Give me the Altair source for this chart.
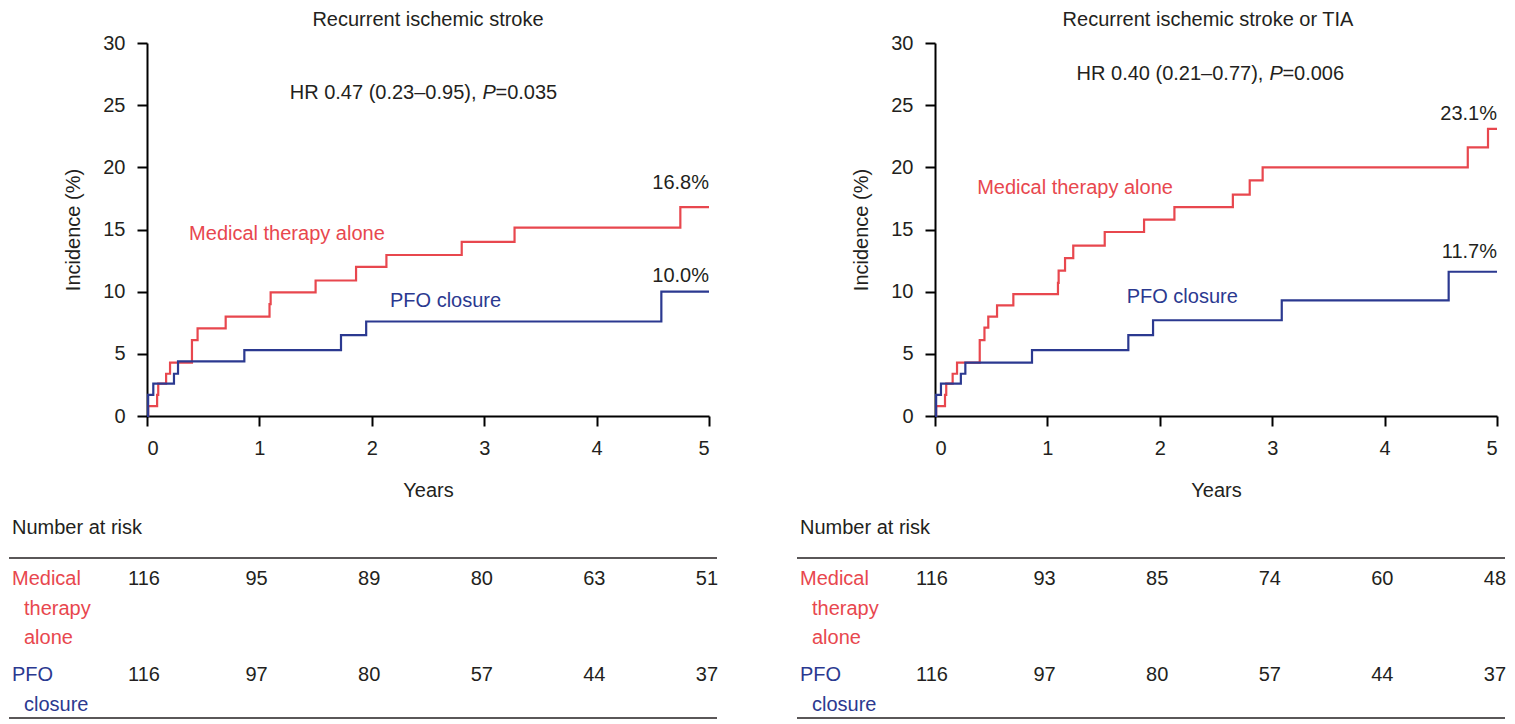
import altair as alt
import pandas as pd

# ---------------- data ----------------
# Left panel: Recurrent ischemic stroke
L_med_t = [0, 0.01, 0.09, 0.10, 0.17, 0.205, 0.40, 0.45, 0.70, 1.09, 1.10, 1.50, 1.86, 2.13, 2.80, 3.27, 4.745, 5.0]
L_med_y = [0, 0.8, 1.7, 2.6, 3.4, 4.3, 6.1, 7.05, 8.0, 9.0, 9.95, 10.9, 12.0, 12.95, 14.0, 15.15, 16.8, 16.8]
L_pfo_t = [0, 0.01, 0.056, 0.24, 0.276, 0.866, 1.726, 1.95, 4.576, 5.0]
L_pfo_y = [0, 1.7, 2.6, 3.4, 4.4, 5.3, 6.5, 7.6, 10.0, 10.0]

# Right panel: Recurrent ischemic stroke or TIA
R_med_t = [0, 0.01, 0.089, 0.10, 0.157, 0.196, 0.398, 0.44, 0.474, 0.552, 0.697, 1.094, 1.10, 1.157, 1.23,
           1.51, 1.86, 2.13, 2.65, 2.80, 2.915, 4.74, 4.92, 5.0]
R_med_y = [0, 0.8, 1.7, 2.6, 3.4, 4.3, 6.1, 7.1, 8.0, 8.9, 9.8, 10.7, 11.7, 12.7, 13.7,
           14.8, 15.8, 16.8, 17.8, 18.95, 20.0, 21.6, 23.1, 23.1]
R_pfo_t = [0, 0.01, 0.053, 0.23, 0.27, 0.863, 1.72, 1.94, 3.085, 4.57, 5.0]
R_pfo_y = [0, 1.7, 2.6, 3.4, 4.3, 5.3, 6.5, 7.7, 9.3, 11.6, 11.6]

groups = ["Medical therapy alone", "PFO closure"]
colors = ["#E8474E", "#2B3990"]

titles = ["Recurrent ischemic stroke", "Recurrent ischemic stroke or TIA"]
hr_main = ["HR 0.47 (0.23\u20130.95),", "HR 0.40 (0.21\u20130.77),"]
hr_p = ["=0.035", "=0.006"]
final_pct = [["16.8%", "10.0%"], ["23.1%", "11.7%"]]

risk_years = [0, 1, 2, 3, 4, 5]
L_risk_med = [116, 95, 89, 80, 63, 51]
L_risk_pfo = [116, 97, 80, 57, 44, 37]
R_risk_med = [116, 93, 85, 74, 60, 48]
R_risk_pfo = [116, 97, 80, 57, 44, 37]

label_lines = [["Medical", "therapy", "alone"], ["PFO", "closure"]]

# annotation anchors (data units)
hr_anchor = [(2.985, 26.0), (2.975, 27.5)]
pct_anchor_y = [[18.7, 11.3], [24.3, 13.2]]
grp_label_pos = [[(1.245, 14.64), (2.656, 9.25)], [(1.246, 18.3), (2.2, 9.57)]]

FONT = "Liberation Sans, Arial, sans-serif"
TXT = "#231F20"
W, H = 562, 373
TW, TH = 562, 160
LEFT_EXT = 138
RIGHT_EXT = 570

color_scale = alt.Scale(domain=groups, range=colors)


def km_panel(i, med_t, med_y, pfo_t, pfo_y, title_dx):
    df = pd.concat([
        pd.DataFrame({"t": med_t, "inc": med_y, "group": groups[0]}),
        pd.DataFrame({"t": pfo_t, "inc": pfo_y, "group": groups[1]}),
    ])
    x = alt.X("t:Q", scale=alt.Scale(domain=[0, 5], nice=False),
              axis=alt.Axis(title="Years", values=[0, 1, 2, 3, 4, 5], format="d",
                            labelPadding=12, titlePadding=22))
    y = alt.Y("inc:Q", scale=alt.Scale(domain=[0, 30], nice=False),
              axis=alt.Axis(title="Incidence (%)", values=[0, 5, 10, 15, 20, 25, 30],
                            labelPadding=12, titlePadding=19))
    lines = alt.Chart(df).mark_line(interpolate="step-after", strokeWidth=2.2).encode(
        x=x, y=y,
        color=alt.Color("group:N", scale=color_scale, legend=None),
        order=alt.Order("t:Q"),
    )

    pct_df = pd.DataFrame({"t": [5.0, 5.0], "inc": pct_anchor_y[i], "label": final_pct[i]})
    pct = alt.Chart(pct_df).mark_text(align="right", baseline="middle", fontSize=20,
                                      font=FONT, color=TXT).encode(
        x="t:Q", y="inc:Q", text="label:N")

    gl_df = pd.DataFrame({
        "t": [p[0] for p in grp_label_pos[i]],
        "inc": [p[1] for p in grp_label_pos[i]],
        "group": groups,
    })
    glab = alt.Chart(gl_df).mark_text(align="center", baseline="middle", fontSize=20,
                                      font=FONT).encode(
        x="t:Q", y="inc:Q", text="group:N",
        color=alt.Color("group:N", scale=color_scale, legend=None))

    hr_df = pd.DataFrame({"t": [hr_anchor[i][0]], "inc": [hr_anchor[i][1]],
                          "a": [hr_main[i]], "p": ["P"], "b": [hr_p[i]]})
    base_hr = alt.Chart(hr_df).encode(x="t:Q", y="inc:Q")
    hr1 = base_hr.mark_text(align="right", baseline="middle", fontSize=20, font=FONT,
                            color=TXT, dx=-6).encode(text="a:N")
    hr2 = base_hr.mark_text(align="left", baseline="middle", fontSize=20, font=FONT,
                            color=TXT, fontStyle="italic").encode(text="p:N")
    hr3 = base_hr.mark_text(align="left", baseline="middle", fontSize=20, font=FONT,
                            color=TXT, dx=13).encode(text="b:N")

    return alt.layer(lines, pct, glab, hr1, hr2, hr3).properties(
        width=W, height=H,
        title=alt.TitleParams(titles[i], fontSize=20, font=FONT, fontWeight="normal",
                              color=TXT, anchor="middle", frame="group", offset=3, dx=title_dx),
    )


def risk_table(med, pfo):
    df = pd.DataFrame({
        "year": risk_years * 2,
        "n": med + pfo,
        "group": [groups[0]] * 6 + [groups[1]] * 6,
    })
    xs = alt.X("year:Q", scale=alt.Scale(domain=[0.027, 5.018], nice=False), axis=None)
    ys = alt.Y("group:N", scale=alt.Scale(domain=groups, range=[21, 117], padding=0), axis=None)
    nums = alt.Chart(df).mark_text(align="center", baseline="middle", fontSize=20,
                                   font=FONT, color=TXT).encode(x=xs, y=ys, text="n:Q")

    lab_rows = []
    for g, lines in zip(groups, label_lines):
        for k, t in enumerate(lines):
            lab_rows.append({"group": g, "k": k, "text": t})
    ldf = pd.DataFrame(lab_rows)
    labs = []
    for k in range(3):
        labs.append(
            alt.Chart(ldf).transform_filter(alt.datum.k == k).mark_text(
                align="left", baseline="middle", fontSize=20, font=FONT,
                dx=0 if k == 0 else 12, dy=29.5 * k,
            ).encode(
                x=alt.value(-LEFT_EXT + 3), y=ys, text="text:N",
                color=alt.Color("group:N", scale=color_scale, legend=None),
            )
        )
    head = alt.Chart(pd.DataFrame({"h": ["Number at risk"]})).mark_text(
        align="left", baseline="middle", fontSize=20, font=FONT, color=TXT
    ).encode(x=alt.value(-LEFT_EXT + 3), y=alt.value(-30), text="h:N")

    rules = alt.Chart(pd.DataFrame({"r": [0, 1]})).mark_rule(color="#231F20", strokeWidth=1.3).encode(
        x=alt.value(-LEFT_EXT), x2=alt.value(RIGHT_EXT),
        y=alt.Y("r:Q", scale=alt.Scale(domain=[0, 1], range=[0, TH]), axis=None),
    )
    return alt.layer(rules, head, nums, *labs).resolve_scale(y="independent").properties(width=TW, height=TH)


km_l = km_panel(0, L_med_t, L_med_y, L_pfo_t, L_pfo_y, 0)
km_r = km_panel(1, R_med_t, R_med_y, R_pfo_t, R_pfo_y, -8)
tab_l = risk_table(L_risk_med, L_risk_pfo)
tab_r = risk_table(R_risk_med, R_risk_pfo)

chart = alt.concat(km_l, km_r, tab_l, tab_r, columns=2, spacing={"row": 18, "column": 77}).properties(
    padding={"top": 2, "left": 0, "right": 0, "bottom": 0}
).configure_view(stroke=None).configure_axis(
    domainColor="black", domainWidth=2, tickColor="black", tickWidth=2, tickSize=10,
    labelFont=FONT, labelFontSize=20, labelColor=TXT,
    titleFont=FONT, titleFontSize=20, titleFontWeight="normal", titleColor=TXT,
    grid=False,
)

chart.save("out.html", embed_options={"renderer": "svg", "actions": False})
